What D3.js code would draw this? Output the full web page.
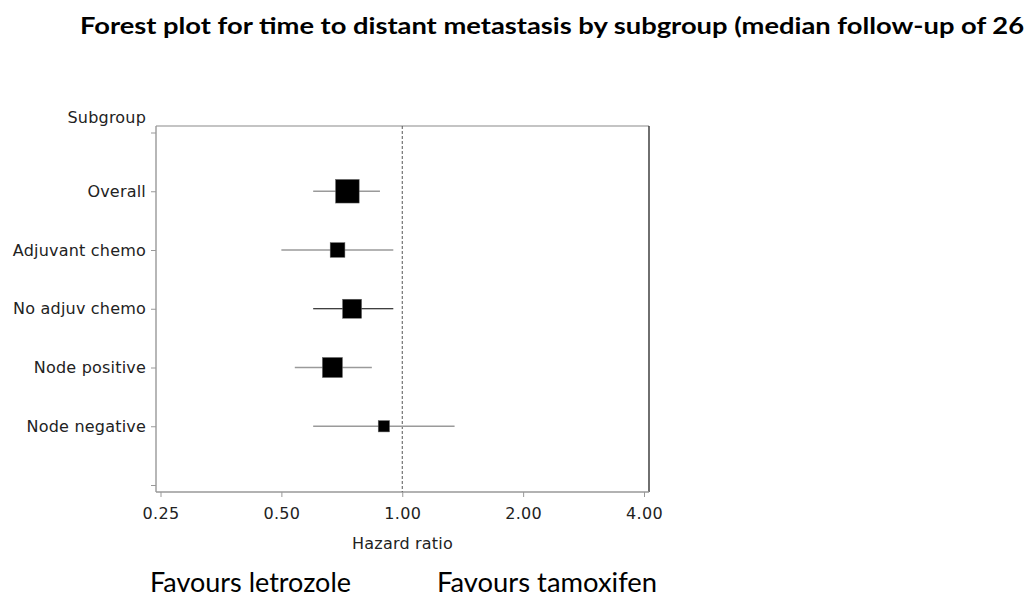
<!DOCTYPE html>
<html>
<head>
<meta charset="utf-8">
<script src="https://cdn.jsdelivr.net/npm/d3@7"></script>
<style>
  html, body { margin: 0; padding: 0; background: #fff; }
  svg { display: block; }
</style>
</head>
<body>
<svg id="chart" width="1032" height="599"></svg>
<script>
// ---- Data ----
const categories = ["Overall", "Adjuvant chemo", "No adjuv chemo", "Node positive", "Node negative"];
const hazardRatio = [0.73, 0.69, 0.75, 0.67, 0.90];
const ciLower     = [0.60, 0.50, 0.60, 0.54, 0.60];
const ciUpper     = [0.88, 0.95, 0.95, 0.84, 1.35];
const weights     = [100, 39, 65, 72, 23];          // relative square area
const ciColour    = ["#9a9a9a", "#9a9a9a", "#000000", "#9a9a9a", "#9a9a9a"];
const xTicks      = [0.25, 0.5, 1, 2, 4];
const titleText   = "Forest plot for time to distant metastasis by subgroup (median follow-up of 26";
const yTitle      = "Subgroup";
const xTitle      = "Hazard ratio";
const leftNote    = "Favours letrozole";
const rightNote   = "Favours tamoxifen";

// ---- Layout ----
const svg = d3.select("#chart");
const frame = { left: 156, right: 649, top: 126, bottom: 492 };
const axisFont = "'DejaVu Sans', sans-serif";
const noteFont = "Lato, 'Open Sans', sans-serif";
const textCol = "#222";

const x = d3.scaleLog().base(2).domain([0.25, 4]).range([160.5, 644]);
const y = d3.scaleLinear().domain([0, categories.length + 1]).range([132.5, 485]);
const size = d3.scaleSqrt().domain([0, 100]).range([0, 23.6]);

// Title (narrowed to the measured width, Calibri-like proportions)
svg.append("text")
  .attr("x", 80).attr("y", 34)
  .attr("font-family", noteFont)
  .attr("font-weight", "bold")
  .attr("font-size", 23.5)
  .attr("fill", "#000")
  .attr("textLength", 944)
  .attr("lengthAdjust", "spacingAndGlyphs")
  .text(titleText);

// Frame lines
svg.append("line").attr("x1", frame.left).attr("x2", frame.right)
  .attr("y1", frame.top).attr("y2", frame.top)
  .attr("stroke", "#b0b0b0").attr("stroke-width", 1.6);
svg.append("line").attr("x1", frame.right).attr("x2", frame.right)
  .attr("y1", frame.top).attr("y2", frame.bottom)
  .attr("stroke", "#333").attr("stroke-width", 1.4);
svg.append("line").attr("x1", frame.left).attr("x2", frame.left)
  .attr("y1", frame.top).attr("y2", frame.bottom)
  .attr("stroke", "#999").attr("stroke-width", 1.4);
svg.append("line").attr("x1", frame.left).attr("x2", frame.right)
  .attr("y1", frame.bottom).attr("y2", frame.bottom)
  .attr("stroke", "#999").attr("stroke-width", 1.4);

// Reference line at HR = 1
svg.append("line")
  .attr("x1", x(1)).attr("x2", x(1))
  .attr("y1", frame.top).attr("y2", frame.bottom)
  .attr("stroke", "#555").attr("stroke-width", 1)
  .attr("stroke-dasharray", "3,2");

// Left axis
const yAxis = d3.axisLeft(y)
  .tickValues(d3.range(categories.length + 2))
  .tickSize(5).tickPadding(5)
  .tickFormat(i => (i >= 1 && i <= categories.length) ? categories[i - 1] : "");
const ya = svg.append("g").attr("transform", `translate(${frame.left},0)`).call(yAxis);
ya.select(".domain").remove();
ya.selectAll(".tick line").attr("stroke", "#999");
ya.selectAll(".tick text").attr("font-family", axisFont).attr("font-size", 16)
  .attr("letter-spacing", 0.2).attr("fill", textCol);

// Bottom axis
const xAxis = d3.axisBottom(x).tickValues(xTicks).tickSize(5).tickPadding(11)
  .tickFormat(d3.format(".2f"));
const xa = svg.append("g").attr("transform", `translate(0,${frame.bottom})`).call(xAxis);
xa.select(".domain").remove();
xa.selectAll(".tick line").attr("stroke", "#999");
xa.selectAll(".tick text").attr("font-family", axisFont).attr("font-size", 16)
  .attr("letter-spacing", 0.3).attr("fill", textCol);

// Axis titles
svg.append("text").attr("x", 146).attr("y", 123)
  .attr("text-anchor", "end").attr("font-family", axisFont).attr("font-size", 16)
  .attr("letter-spacing", 0.2).attr("fill", textCol).text(yTitle);
svg.append("text").attr("x", (frame.left + frame.right) / 2).attr("y", 549)
  .attr("text-anchor", "middle").attr("font-family", axisFont).attr("font-size", 16)
  .attr("letter-spacing", 0.2).attr("fill", textCol).text(xTitle);

// Data rows
const rows = categories.map((c, i) => ({
  c, i, hr: hazardRatio[i], lo: ciLower[i], hi: ciUpper[i], w: weights[i], col: ciColour[i]
}));
const g = svg.append("g");
g.selectAll("line.ci").data(rows).join("line")
  .attr("class", "ci")
  .attr("x1", d => x(d.lo)).attr("x2", d => x(d.hi))
  .attr("y1", d => y(d.i + 1)).attr("y2", d => y(d.i + 1))
  .attr("stroke", d => d.col)
  .attr("stroke-width", d => d.col === "#000000" ? 1.2 : 1.6);
g.selectAll("rect.pt").data(rows).join("rect")
  .attr("class", "pt")
  .attr("x", d => x(d.hr) - size(d.w) / 2)
  .attr("y", d => y(d.i + 1) - size(d.w) / 2)
  .attr("width", d => size(d.w))
  .attr("height", d => size(d.w))
  .attr("fill", "#000")
  .attr("stroke", "#666").attr("stroke-width", 0.5);

// Favours notes
svg.append("text").attr("x", 150).attr("y", 592)
  .attr("font-family", noteFont).attr("font-size", 27)
  .attr("textLength", 201).attr("lengthAdjust", "spacingAndGlyphs")
  .attr("fill", "#000").text(leftNote);
svg.append("text").attr("x", 437).attr("y", 592)
  .attr("font-family", noteFont).attr("font-size", 27)
  .attr("textLength", 220).attr("lengthAdjust", "spacingAndGlyphs")
  .attr("fill", "#000").text(rightNote);
</script>
</body>
</html>
